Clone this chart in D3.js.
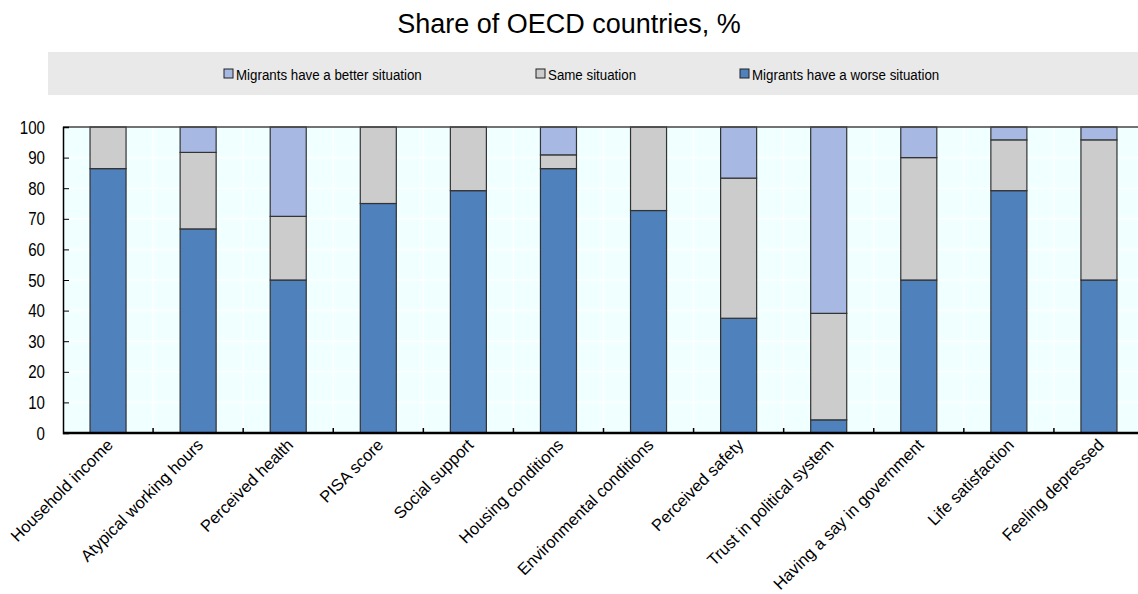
<!DOCTYPE html>
<html>
<head>
<meta charset="utf-8">
<script src="https://cdn.jsdelivr.net/npm/d3@7"></script>
<style>
body { margin: 0; background: #fff; }
svg { display: block; font-family: "Liberation Sans", Arial, sans-serif; }
</style>
</head>
<body>
<svg id="chart" width="1138" height="594"></svg>
<script>
var categories = ["Household income", "Atypical working hours", "Perceived health", "PISA score", "Social support",
  "Housing conditions", "Environmental conditions", "Perceived safety", "Trust in political system",
  "Having a say in government", "Life satisfaction", "Feeling depressed"];
var worse  = [86.4, 66.7, 50.0, 75.0, 79.2, 86.4, 72.7, 37.5, 4.3, 50.0, 79.2, 50.0];
var same   = [13.6, 25.0, 20.8, 25.0, 20.8, 4.5, 27.3, 45.8, 34.8, 40.0, 16.6, 45.8];
var better = [0, 8.3, 29.2, 0, 0, 9.1, 0, 16.7, 60.9, 10.0, 4.2, 4.2];
var yTicks = [0, 10, 20, 30, 40, 50, 60, 70, 80, 90, 100];

var series = [
  {key: "worse", name: "Migrants have a worse situation", color: "#4F81BD"},
  {key: "same", name: "Same situation", color: "#CCCCCC"},
  {key: "better", name: "Migrants have a better situation", color: "#A7B9E3"}
];

(function draw(){
  var svg = d3.select("#chart");
  var mLeft = 63, mRight = 1144, mTop = 127, mBottom = 433;

  var xb = d3.scaleBand().domain(categories).range([mLeft, mRight]);
  var barW = xb.bandwidth() * 0.4;
  var y = d3.scaleLinear().domain([0, 100]).range([mBottom, mTop]);

  // title
  svg.append("text").attr("x", 569).attr("y", 33).attr("text-anchor", "middle")
    .attr("font-size", 27).attr("fill", "#000").text("Share of OECD countries, %");

  // legend band
  svg.append("rect").attr("x", 48).attr("y", 52).attr("width", 1090).attr("height", 43).attr("fill", "#E9E9E9");
  var legendOrder = [series[2], series[1], series[0]];
  var legendX = [224, 536, 740];
  legendOrder.forEach(function(s, i){
    var g = svg.append("g").attr("transform", "translate(" + legendX[i] + ",74)");
    g.append("rect").attr("x", 0).attr("y", -5).attr("width", 9).attr("height", 9)
      .attr("fill", s.color).attr("stroke", "#222").attr("stroke-width", 1);
    g.append("text").attr("transform", "translate(12,6) scale(0.86,1)")
      .attr("font-size", 15.5).attr("fill", "#000").text(s.name);
  });

  // plot background
  svg.append("rect").attr("x", mLeft).attr("y", mTop).attr("width", mRight - mLeft).attr("height", mBottom - mTop).attr("fill", "#F0FFFF");

  // grid
  svg.append("g").selectAll("line").data(yTicks.slice(1, -1)).join("line")
    .attr("x1", mLeft).attr("x2", mRight).attr("y1", function(d){ return y(d); }).attr("y2", function(d){ return y(d); })
    .attr("stroke", "#fff").attr("stroke-width", 1.5);
  svg.append("g").selectAll("line").data(categories.slice(1)).join("line")
    .attr("x1", function(d){ return xb(d); }).attr("x2", function(d){ return xb(d); })
    .attr("y1", mTop).attr("y2", mBottom).attr("stroke", "#fff").attr("stroke-width", 1.5);

  // stacked bars
  var rows = categories.map(function(c, i){
    return {cat: c, worse: worse[i], same: same[i], better: better[i]};
  });
  var stacked = d3.stack().keys(["worse", "same", "better"])(rows);

  svg.append("g").selectAll("g").data(stacked).join("g")
    .attr("fill", function(d, i){ return series[i].color; })
    .selectAll("rect").data(function(d){ return d.filter(function(p){ return p[1] - p[0] > 0; }); }).join("rect")
    .attr("x", function(d){ return xb(d.data.cat) + (xb.bandwidth() - barW) / 2; })
    .attr("width", barW)
    .attr("y", function(d){ return y(d[1]); })
    .attr("height", function(d){ return y(d[0]) - y(d[1]); })
    .attr("stroke", "#333").attr("stroke-width", 1.2);

  // top border
  svg.append("line").attr("x1", mLeft).attr("x2", mRight).attr("y1", mTop).attr("y2", mTop).attr("stroke", "#444").attr("stroke-width", 1.5);

  // y axis
  var yAxis = svg.append("g").attr("transform", "translate(" + mLeft + ",0)")
    .call(d3.axisRight(y).tickValues(yTicks).tickSize(6).tickFormat(""));
  yAxis.select(".domain").attr("stroke", "#000").attr("stroke-width", 1.5);
  yAxis.selectAll(".tick line").attr("stroke", "#000");
  svg.append("g").selectAll("text").data(yTicks).join("text")
    .attr("transform", function(d){ return "translate(45," + (y(d) + 6.5) + ") scale(0.84,1)"; })
    .attr("text-anchor", "end").attr("font-size", 18).attr("fill", "#000")
    .text(function(d){ return d; });

  // x axis
  svg.append("g").selectAll("line").data(categories.slice(1)).join("line")
    .attr("x1", function(d){ return xb(d); }).attr("x2", function(d){ return xb(d); })
    .attr("y1", mBottom).attr("y2", mBottom - 5).attr("stroke", "#000").attr("stroke-width", 1.5);
  svg.append("line").attr("x1", mLeft).attr("x2", mRight).attr("y1", mBottom).attr("y2", mBottom)
    .attr("stroke", "#000").attr("stroke-width", 2.5);

  svg.append("g").selectAll("text").data(categories).join("text")
    .attr("transform", function(d){
      return "translate(" + (xb(d) + xb.bandwidth() / 2 + 6) + "," + (mBottom + 13) + ") rotate(-45)";
    })
    .attr("text-anchor", "end").attr("font-size", 16.5).attr("fill", "#000")
    .text(function(d){ return d; });
})();
</script>
</body>
</html>
